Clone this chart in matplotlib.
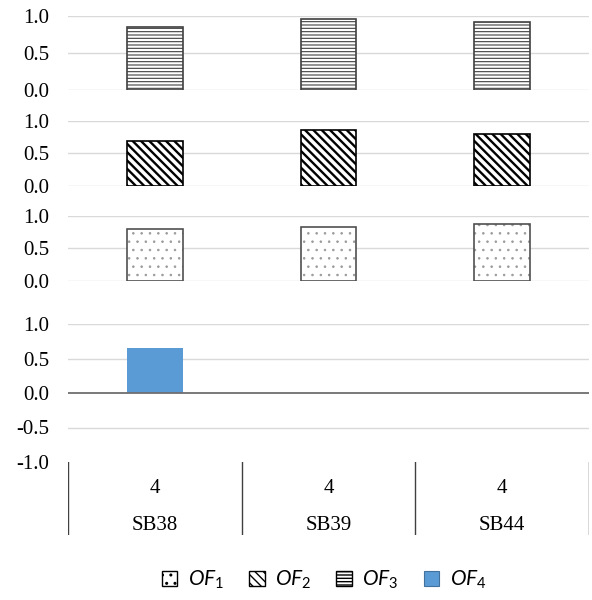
import matplotlib
matplotlib.use('Agg')
import matplotlib.pyplot as plt
from matplotlib.patches import Patch
import numpy as np

# dados
categorias = ['SB38', 'SB39', 'SB44']
contagem = ['4', '4', '4']
of1 = [0.79, 0.83, 0.87]
of2 = [0.69, 0.85, 0.79]
of3 = [0.85, 0.95, 0.91]
of4 = [0.65, 0.0, 0.0]

serif = ['Liberation Serif', 'DejaVu Serif']
plt.rcParams['font.family'] = serif
plt.rcParams['mathtext.fontset'] = 'custom'
plt.rcParams['mathtext.it'] = 'Lato:italic'
plt.rcParams['mathtext.rm'] = 'Lato'

fig = plt.figure(figsize=(5.92, 6), dpi=100)

esq = 68 / 592
larg = 521 / 592
x = np.arange(len(categorias))
w = 0.32
cor_borda = '#404040'
cor_grade = '#D9D9D9'
fs = 15


def painel(y_top, y_bot):
    # posicao em pixels (a partir do topo)
    ax = fig.add_axes([esq, 1 - y_bot / 600, larg, (y_bot - y_top) / 600])
    for s in ax.spines.values():
        s.set_visible(False)
    ax.set_xlim(-0.5, len(categorias) - 0.5)
    ax.set_xticks([])
    ax.tick_params(axis='y', length=0, pad=13.5)
    ax.yaxis.set_major_formatter(matplotlib.ticker.FormatStrFormatter('%.1f'))
    ax.grid(axis='y', color=cor_grade, linewidth=1.0)
    ax.set_axisbelow(True)
    return ax


def rotulos(ax):
    for t in ax.get_yticklabels():
        t.set_fontfamily(serif)
        t.set_fontsize(fs)


# OF3
ax1 = painel(15.7, 90)
ax1.set_ylim(0, 1)
ax1.set_yticks([0, 0.5, 1.0])
with plt.rc_context({'hatch.linewidth': 0.8}):
    b3 = ax1.bar(x, of3, w, color='white', edgecolor=cor_borda, hatch='-----', linewidth=1.2)
rotulos(ax1)

# OF2
ax2 = painel(120.7, 186)
ax2.set_ylim(0, 1)
ax2.set_yticks([0, 0.5, 1.0])
with plt.rc_context({'hatch.linewidth': 1.7}):
    b2 = ax2.bar(x, of2, w, color='white', edgecolor='black', hatch='\\\\\\\\', linewidth=1.2)
rotulos(ax2)

# OF1
ax3 = painel(215.7, 280.7)
ax3.set_ylim(0, 1)
ax3.set_yticks([0, 0.5, 1.0])
with plt.rc_context({'hatch.linewidth': 0.6}):
    b1 = ax3.bar(x, of1, w, color='white', edgecolor='#9A9A9A', hatch='..', linewidth=0)
ax3.bar(x, of1, w, color='none', edgecolor='#505050', linewidth=1.2)
rotulos(ax3)

# OF4
ax4 = painel(324, 462)
ax4.set_ylim(-1, 1)
ax4.set_yticks([-1.0, -0.5, 0, 0.5, 1.0])
ax4.grid(False)
for v in [-0.5, 0.5, 1.0]:
    ax4.axhline(v, color=cor_grade, linewidth=1.0, zorder=0)
b4 = ax4.bar(x, of4, w, color='#5B9BD5', linewidth=0)
ax4.axhline(0, color='#6E6E6E', linewidth=1.3, zorder=3)
rotulos(ax4)

# tabela de categorias
axt = fig.add_axes([esq, 1 - 535 / 600, larg, (535 - 462) / 600])
axt.set_xlim(-0.5, len(categorias) - 0.5)
axt.set_ylim(0, 1)
axt.axis('off')
for xv in np.arange(len(categorias) + 1) - 0.5:
    axt.axvline(xv, color='#404040', linewidth=1.0)
for i in range(len(categorias)):
    axt.text(x[i], 0.575, contagem[i], ha='center', va='baseline', fontsize=fs, family=serif)
    axt.text(x[i], 0.07, categorias[i], ha='center', va='baseline', fontsize=fs, family=serif)

# legenda
with plt.rc_context({'hatch.linewidth': 1.0}):
    h1 = Patch(facecolor='white', edgecolor='black', hatch='..', linewidth=1.0)
    h2 = Patch(facecolor='white', edgecolor='black', hatch='\\\\\\\\', linewidth=1.0)
    h3 = Patch(facecolor='white', edgecolor='black', hatch='-----', linewidth=1.0)
    h4 = Patch(facecolor='#5B9BD5', edgecolor='#41719C', linewidth=0.8)
leg = fig.legend([h1, h2, h3, h4],
                 [r'$\mathit{OF}_\mathit{1}$', r'$\mathit{OF}_\mathit{2}$',
                  r'$\mathit{OF}_\mathit{3}$', r'$\mathit{OF}_\mathit{4}$'],
                 loc='center', bbox_to_anchor=(324 / 592, 1 - 580 / 600), ncol=4,
                 frameon=False, fontsize=15, handlelength=0.75, handleheight=0.7,
                 handletextpad=0.5, columnspacing=1.2)

plt.savefig('out.png', dpi=100)
